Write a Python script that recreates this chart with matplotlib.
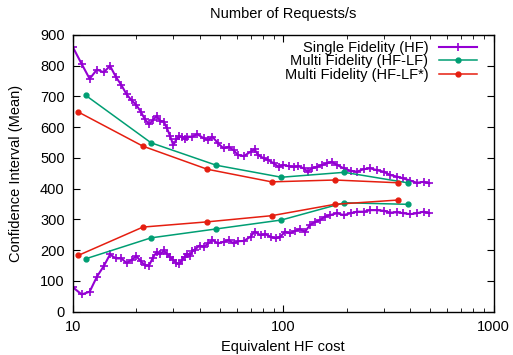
import matplotlib
matplotlib.use("Agg")
import matplotlib.pyplot as plt
from matplotlib.ticker import LogLocator, NullFormatter, FixedLocator

plt.rcParams['font.family'] = ['Liberation Sans', 'DejaVu Sans']

# single fidelity (HF): upper / lower bound of the confidence interval
sf_x = [10, 11, 12, 13, 14, 15, 16, 17, 18, 19, 20, 21, 22, 23, 24, 25, 26, 27, 28, 29,
        30, 31, 32, 33, 34, 35, 37, 39, 42, 44, 46, 49, 52, 55, 58, 61, 65, 70, 73, 76,
        81, 85, 90, 95, 100, 106, 112, 118, 125, 131, 137, 145, 153, 161, 170, 180, 194,
        209, 224, 241, 259, 279, 300, 323, 348, 373, 402, 432, 465, 495]
sf_hi = [859, 805, 757, 787, 778, 799, 763, 736, 706, 687, 672, 650, 625, 609, 623, 636,
         620, 618, 596, 570, 541, 560, 571, 567, 560, 569, 569, 577, 563, 558, 569, 547,
         531, 536, 525, 509, 506, 520, 528, 509, 498, 493, 482, 471, 477, 473, 471, 473,
         466, 455, 466, 471, 477, 482, 487, 477, 466, 458, 455, 463, 466, 460, 455, 444,
         439, 433, 426, 419, 422, 417]

sf_x2 = [10, 11, 12, 13, 14, 15, 16, 17, 18, 19, 20, 21, 22, 23, 24, 25, 26, 27, 28, 29,
         30, 31, 32, 33, 34, 35, 36, 37, 38, 40, 42, 44, 46, 49, 52, 55, 58, 61, 65, 70,
         73, 78, 82, 87, 92, 97, 102, 108, 114, 120, 127, 134, 142, 150, 158, 167, 180,
         194, 209, 224, 241, 259, 279, 300, 323, 348, 373, 402, 432, 465, 495]
sf_lo = [79, 56, 65, 114, 148, 186, 173, 173, 158, 168, 181, 164, 151, 150, 176, 194,
         186, 199, 188, 177, 168, 158, 155, 168, 179, 189, 182, 197, 202, 215, 211, 222,
         233, 222, 227, 233, 222, 229, 230, 244, 260, 249, 252, 244, 238, 244, 260, 255,
         263, 268, 260, 282, 292, 298, 309, 314, 320, 314, 320, 325, 325, 330, 330, 328,
         322, 323, 320, 317, 320, 325, 320]

# multi fidelity (HF-LF)
mf_x = [11.5, 23.5, 48, 98, 195, 390]
mf_hi = [703, 549, 476, 437, 453, 419]
mf_lo = [172, 240, 269, 298, 354, 349]

# multi fidelity (HF-LF*)
mfs_x = [10.6, 21.5, 43.5, 88, 176, 353]
mfs_hi = [649, 538, 463, 422, 428, 419]
mfs_lo = [183, 275, 292, 312, 349, 363]

purple = '#9400D3'
green = '#009E73'
red = '#E51E10'

fig = plt.figure(figsize=(5.13, 3.55), dpi=100)
ax = fig.add_axes([0.1423, 0.122, 0.8197, 0.780])

ax.plot(sf_x, sf_hi, color=purple, lw=1.5, marker='+', ms=5.5, mew=1.2,
        label='Single Fidelity (HF)')
ax.plot(sf_x2, sf_lo, color=purple, lw=1.5, marker='+', ms=5.5, mew=1.2)
ax.plot(mf_x, mf_hi, color=green, lw=1.1, marker='o', ms=3.5,
        label='Multi Fidelity (HF-LF)')
ax.plot(mf_x, mf_lo, color=green, lw=1.1, marker='o', ms=3.5)
ax.plot(mfs_x, mfs_hi, color=red, lw=1.1, marker='o', ms=3.5,
        label='Multi Fidelity (HF-LF*)')
ax.plot(mfs_x, mfs_lo, color=red, lw=1.1, marker='o', ms=3.5)

ax.set_xscale('log')
ax.set_xlim(10, 1000)
ax.set_ylim(0, 900)
ax.yaxis.set_major_locator(FixedLocator(range(0, 901, 100)))
ax.xaxis.set_major_locator(FixedLocator([10, 100, 1000]))
ax.xaxis.set_minor_locator(LogLocator(base=10, subs=range(2, 10)))
ax.xaxis.set_minor_formatter(NullFormatter())
ax.set_xticklabels(['10', '100', '1000'])

ax.tick_params(which='both', direction='in', top=True, right=True,
               labelsize=10.5, color='black', pad=6)
ax.tick_params(which='major', length=5)
ax.tick_params(which='minor', length=3)
for s in ax.spines.values():
    s.set_linewidth(1.0)

ax.set_title('Number of Requests/s', fontsize=10.5, pad=12)
ax.set_xlabel('Equivalent HF cost', fontsize=10.5, labelpad=4)
ax.set_ylabel('Confidence Interval (Mean)', fontsize=10.5, labelpad=12)

ax.legend(loc='upper right', frameon=False, markerfirst=False, fontsize=10.5,
          handlelength=2.65, handletextpad=0.7, labelspacing=-0.02,
          borderaxespad=0.0, bbox_to_anchor=(0.975, 1.0))

fig.savefig('out.png', dpi=100)
